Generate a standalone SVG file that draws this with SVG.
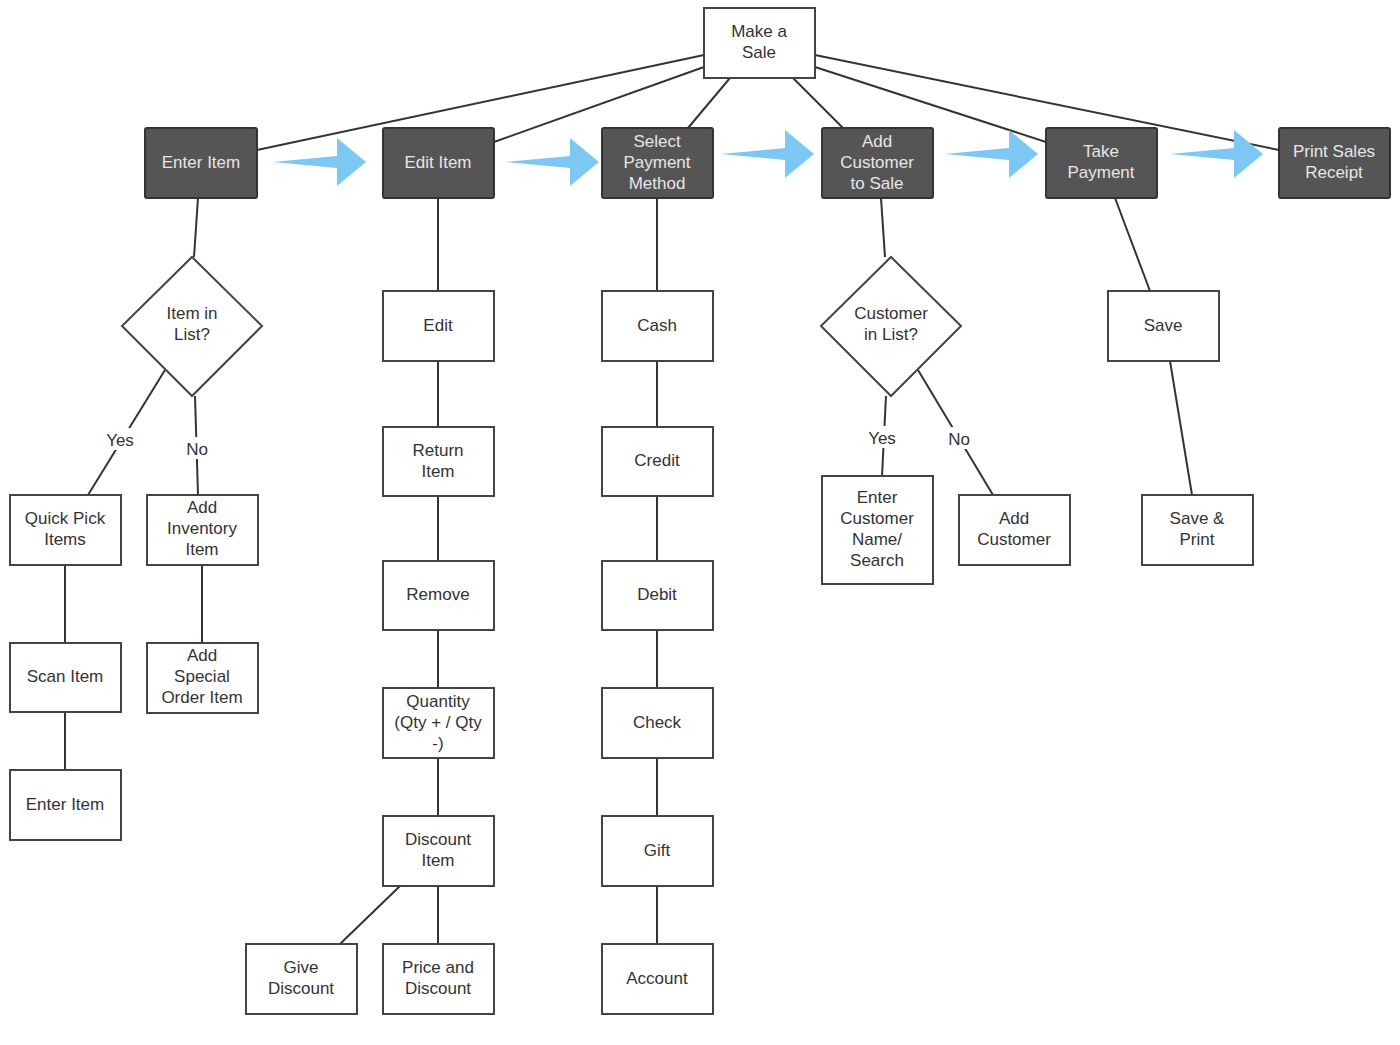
<svg xmlns="http://www.w3.org/2000/svg" width="1400" height="1045" viewBox="0 0 1400 1045">
<style>
.b{fill:#fff;stroke:#444;stroke-width:2}
.d{fill:#555;stroke:#333;stroke-width:2}
text{font-family:"Liberation Sans",Arial,sans-serif;font-size:17px;fill:#333;text-anchor:middle}
.w{fill:#e6e6e6}
.c line{stroke:#333;stroke-width:2}
.ar{fill:#7cc8f2}
.lb{fill:#fff}
</style>
<defs>
<polygon id="ba" points="0,24 64,18 64,0 93,24 64,48 64,30"/>
</defs>
<rect width="1400" height="1045" fill="#fff"/>
<g class="c">
<line x1="704" y1="55" x2="257" y2="150"/>
<line x1="704" y1="67" x2="494" y2="142"/>
<line x1="730" y1="78" x2="688" y2="128"/>
<line x1="793" y1="78" x2="843" y2="128"/>
<line x1="815" y1="67" x2="1046" y2="142"/>
<line x1="815" y1="55" x2="1279" y2="150"/>
<line x1="198" y1="198" x2="194" y2="257"/>
<line x1="165" y1="370" x2="88" y2="495"/>
<line x1="195" y1="396" x2="198" y2="495"/>
<line x1="65" y1="565" x2="65" y2="770"/>
<line x1="202" y1="565" x2="202" y2="643"/>
<line x1="438" y1="198" x2="438" y2="944"/>
<line x1="400" y1="886" x2="340" y2="944"/>
<line x1="657" y1="198" x2="657" y2="944"/>
<line x1="881" y1="198" x2="885" y2="257"/>
<line x1="886" y1="396" x2="882" y2="476"/>
<line x1="918" y1="370" x2="993" y2="495"/>
<line x1="1115" y1="198" x2="1150" y2="291"/>
<line x1="1170" y1="361" x2="1192" y2="495"/>
<rect class="lb" x="102" y="428" width="36" height="22"/>
<rect class="lb" x="182" y="437" width="30" height="22"/>
<rect class="lb" x="864" y="426" width="36" height="22"/>
<rect class="lb" x="944" y="427" width="30" height="22"/>
<text x="120" y="446">Yes</text>
<text x="197" y="455">No</text>
<text x="882" y="444">Yes</text>
<text x="959" y="445">No</text>
</g>
<g id="arrows">
<use href="#ba" class="ar" x="273" y="138"/>
<use href="#ba" class="ar" x="506" y="138"/>
<use href="#ba" class="ar" x="721" y="130"/>
<use href="#ba" class="ar" x="945" y="130"/>
<use href="#ba" class="ar" x="1170" y="130"/>
</g>
<g id="make"><rect class="b" x="704" y="8" width="111" height="70"/><text x="759" y="37">Make a</text><text x="759" y="58">Sale</text></g>
<g id="enter"><rect class="d" x="145" y="128" width="112" height="70" rx="2"/><text class="w" x="201" y="168">Enter Item</text></g>
<g id="edititem"><rect class="d" x="383" y="128" width="111" height="70" rx="2"/><text class="w" x="438" y="168">Edit Item</text></g>
<g id="select"><rect class="d" x="602" y="128" width="111" height="70" rx="2"/><text class="w" x="657" y="147">Select</text><text class="w" x="657" y="168">Payment</text><text class="w" x="657" y="189">Method</text></g>
<g id="addcust"><rect class="d" x="822" y="128" width="111" height="70" rx="2"/><text class="w" x="877" y="147">Add</text><text class="w" x="877" y="168">Customer</text><text class="w" x="877" y="189">to Sale</text></g>
<g id="take"><rect class="d" x="1046" y="128" width="111" height="70" rx="2"/><text class="w" x="1101" y="157">Take</text><text class="w" x="1101" y="178">Payment</text></g>
<g id="print"><rect class="d" x="1279" y="128" width="111" height="70" rx="2"/><text class="w" x="1334" y="157">Print Sales</text><text class="w" x="1334" y="178">Receipt</text></g>
<g id="dia1"><polygon class="b" points="192,257 262,326 192,396 122,326"/><text x="192" y="319">Item in</text><text x="192" y="340">List?</text></g>
<g id="quick"><rect class="b" x="10" y="495" width="111" height="70"/><text x="65" y="524">Quick Pick</text><text x="65" y="545">Items</text></g>
<g id="scan"><rect class="b" x="10" y="643" width="111" height="69"/><text x="65" y="682">Scan Item</text></g>
<g id="enter2"><rect class="b" x="10" y="770" width="111" height="70"/><text x="65" y="810">Enter Item</text></g>
<g id="addinv"><rect class="b" x="147" y="495" width="111" height="70"/><text x="202" y="513">Add</text><text x="202" y="534">Inventory</text><text x="202" y="555">Item</text></g>
<g id="addspec"><rect class="b" x="147" y="643" width="111" height="70"/><text x="202" y="661">Add</text><text x="202" y="682">Special</text><text x="202" y="703">Order Item</text></g>
<g id="edit"><rect class="b" x="383" y="291" width="111" height="70"/><text x="438" y="331">Edit</text></g>
<g id="return"><rect class="b" x="383" y="427" width="111" height="69"/><text x="438" y="456">Return</text><text x="438" y="477">Item</text></g>
<g id="remove"><rect class="b" x="383" y="561" width="111" height="69"/><text x="438" y="600">Remove</text></g>
<g id="qty"><rect class="b" x="383" y="688" width="111" height="70"/><text x="438" y="707">Quantity</text><text x="438" y="728">(Qty + / Qty</text><text x="438" y="749">-)</text></g>
<g id="disc"><rect class="b" x="383" y="816" width="111" height="70"/><text x="438" y="845">Discount</text><text x="438" y="866">Item</text></g>
<g id="price"><rect class="b" x="383" y="944" width="111" height="70"/><text x="438" y="973">Price and</text><text x="438" y="994">Discount</text></g>
<g id="give"><rect class="b" x="246" y="944" width="111" height="70"/><text x="301" y="973">Give</text><text x="301" y="994">Discount</text></g>
<g id="cash"><rect class="b" x="602" y="291" width="111" height="70"/><text x="657" y="331">Cash</text></g>
<g id="credit"><rect class="b" x="602" y="427" width="111" height="69"/><text x="657" y="466">Credit</text></g>
<g id="debit"><rect class="b" x="602" y="561" width="111" height="69"/><text x="657" y="600">Debit</text></g>
<g id="check"><rect class="b" x="602" y="688" width="111" height="70"/><text x="657" y="728">Check</text></g>
<g id="gift"><rect class="b" x="602" y="816" width="111" height="70"/><text x="657" y="856">Gift</text></g>
<g id="account"><rect class="b" x="602" y="944" width="111" height="70"/><text x="657" y="984">Account</text></g>
<g id="dia2"><polygon class="b" points="891,257 961,326 891,396 821,326"/><text x="891" y="319">Customer</text><text x="891" y="340">in List?</text></g>
<g id="entercust"><rect class="b" x="822" y="476" width="111" height="108"/><text x="877" y="503">Enter</text><text x="877" y="524">Customer</text><text x="877" y="545">Name/</text><text x="877" y="566">Search</text></g>
<g id="addcust2"><rect class="b" x="959" y="495" width="111" height="70"/><text x="1014" y="524">Add</text><text x="1014" y="545">Customer</text></g>
<g id="save"><rect class="b" x="1108" y="291" width="111" height="70"/><text x="1163" y="331">Save</text></g>
<g id="saveprint"><rect class="b" x="1142" y="495" width="111" height="70"/><text x="1197" y="524">Save &amp;</text><text x="1197" y="545">Print</text></g>
</svg>
